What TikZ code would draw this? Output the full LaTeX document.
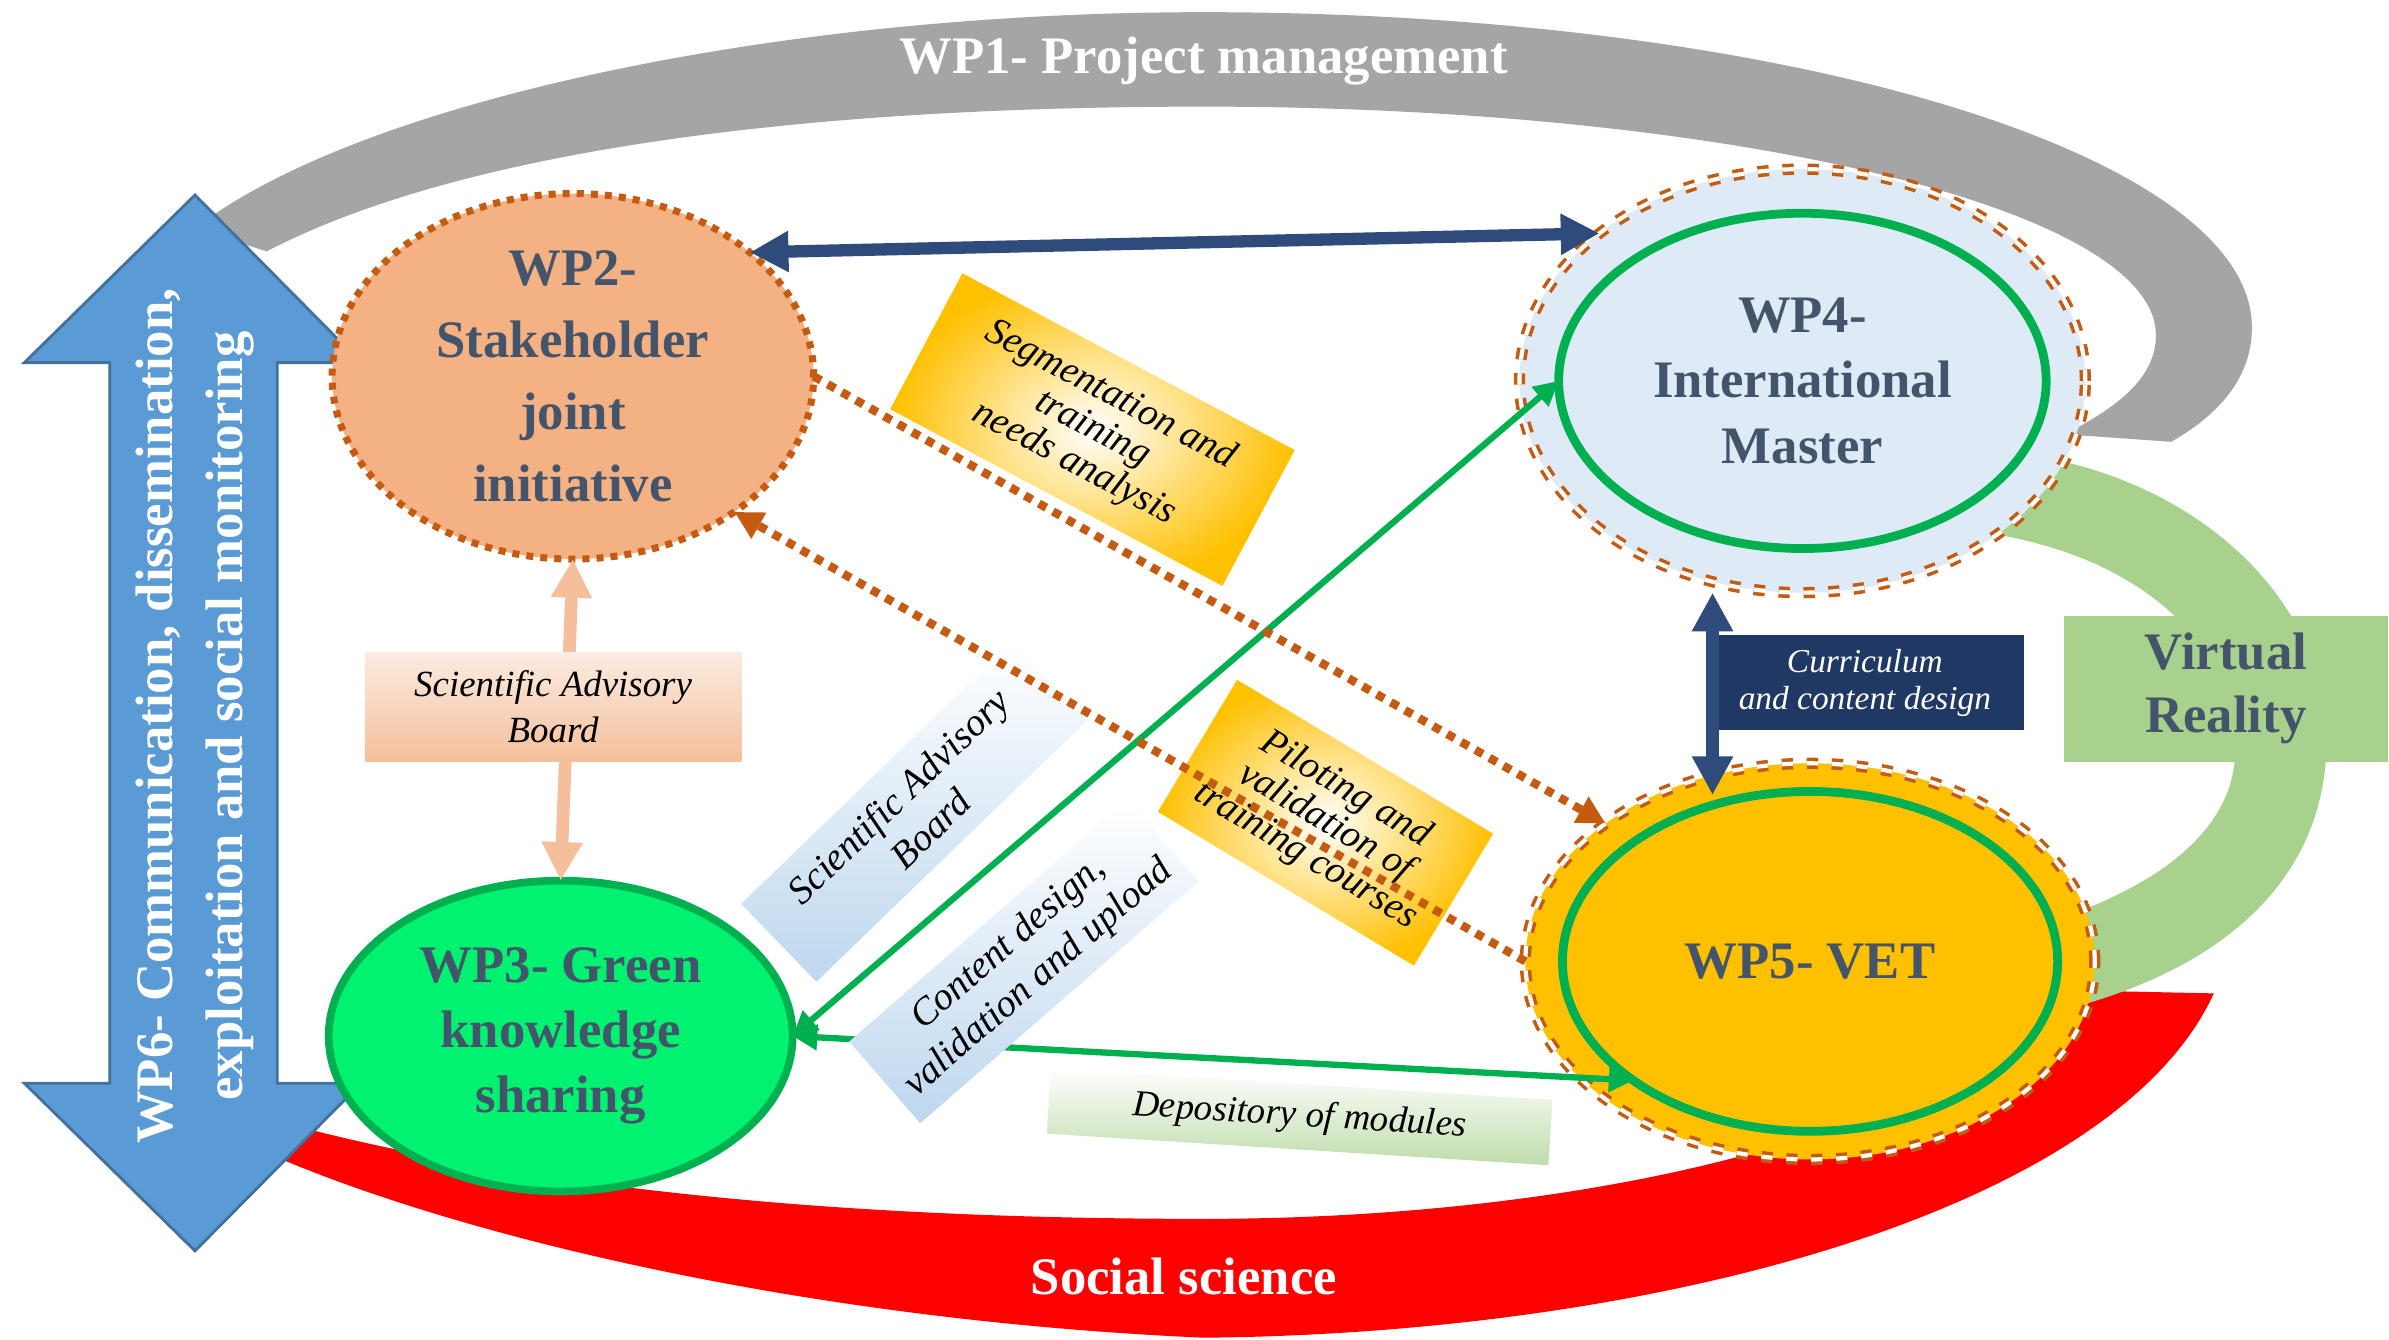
\documentclass[tikz,border=0pt]{standalone}
\usepackage{fontspec}
\setmainfont{Liberation Serif}
\usetikzlibrary{shapes.geometric,arrows.meta}

\definecolor{wpgray}{HTML}{A5A5A5}
\definecolor{wpred}{HTML}{FF0000}
\definecolor{vrgreen}{HTML}{A9D18E}
\definecolor{wpblue}{HTML}{5B9BD5}
\definecolor{wpedge}{HTML}{41719C}
\definecolor{wptext}{HTML}{44546A}
\definecolor{wptwo}{HTML}{F4B183}
\definecolor{rust}{HTML}{C55A11}
\definecolor{wpthree}{HTML}{00F270}
\definecolor{okgreen}{HTML}{00B050}
\definecolor{wpfour}{HTML}{DEEBF7}
\definecolor{wpfive}{HTML}{FFC000}
\definecolor{navy}{HTML}{2F4B7C}
\definecolor{darknavy}{HTML}{203864}
\definecolor{peach}{HTML}{F5BF9C}
\definecolor{labgold}{HTML}{FFC000}
\definecolor{labblue}{HTML}{BDD7EE}
\definecolor{labpeach}{HTML}{F4BF9B}
\definecolor{labgreen}{HTML}{BFDCAB}

\tikzset{
  wp/.style={ellipse, inner sep=0pt, outer sep=0pt, align=center, text=wptext,
    font=\bfseries\fontsize{15}{18.5}\selectfont},
  ringline/.style={draw=rust, line width=1pt, double=white, double distance=1.2pt,
    dash pattern=on 3.2pt off 3.9pt},
  inring/.style={ellipse, draw=okgreen, line width=2.5pt, inner sep=0pt, outer sep=0pt},
  lab/.style={rectangle, inner sep=0pt, align=center,
    font=\itshape\fontsize{11}{11}\selectfont},
  goldlab/.style={lab, inner color=white, outer color=labgold},
  bluelab/.style={lab, top color=white, bottom color=labblue,
    font=\itshape\fontsize{11}{13}\selectfont},
  bandtext/.style={text=white, align=center, font=\bfseries\fontsize{15}{20}\selectfont},
  navyarr/.style={navy, line width=3.5pt,
    {Triangle[length=11pt,width=11pt]}-{Triangle[length=11pt,width=11pt]}},
  peacharr/.style={peach, line width=3.6pt,
    {Triangle[length=11pt,width=11pt]}-{Triangle[length=11pt,width=11pt]}},
  greenarr/.style={okgreen, line width=1.8pt,
    {Triangle[length=7pt,width=7pt]}-{Triangle[length=7pt,width=7pt]}},
  dotarr/.style={rust, line width=2.4pt, dash pattern=on 2.4pt off 2.2pt,
    -{Triangle[length=8pt,width=8pt]}}
}

\begin{document}
\begin{tikzpicture}[x=0.4335pt, y=-0.4335pt]
\useasboundingbox (0,0) rectangle (1568,879);
\fill[white] (0,0) rectangle (1568,879);

% bands
\fill[wpgray] (128,150) .. controls (230,70) and (500,8) .. (790,8)
  .. controls (1170,8) and (1478,101) .. (1478,215)
  .. controls (1478,245) and (1460,270) .. (1425,290) -- (1355,285)
  .. controls (1395,265) and (1415,245) .. (1415,220)
  .. controls (1415,137) and (1135,70) .. (790,70)
  .. controls (520,70) and (300,100) .. (175,165) -- cycle;
\fill[wpred] (150,745) .. controls (260,800) and (500,865) .. (790,878)
  .. controls (1100,875) and (1390,790) .. (1453,652) -- (1360,650)
  .. controls (1250,760) and (1000,800) .. (790,800)
  .. controls (550,800) and (350,780) .. (190,738) -- cycle;
\fill[vrgreen] (1340,300) .. controls (1450,320) and (1530,400) .. (1527,490)
  .. controls (1525,570) and (1470,630) .. (1365,660) -- (1360,600)
  .. controls (1440,570) and (1468,530) .. (1467,490)
  .. controls (1466,420) and (1400,360) .. (1290,348) -- cycle;
\node[bandtext] (wp1) at (790,40) {WP1- Project management};
\node[bandtext] (soc) at (777,838) {Social science};
\node[fill=vrgreen, inner sep=0pt, minimum width=92.3pt, minimum height=41.6pt,
  align=center, text=wptext, font=\bfseries\fontsize{15}{18}\selectfont]
  (vr) at (1461,452) {Virtual\\Reality};

% WP6 arrow
\draw[wpedge, fill=wpblue, line width=0.8pt] (128,128) -- (237,238) -- (182,238)
  -- (182,711) -- (237,711) -- (128,821) -- (16,711) -- (72,711) -- (72,238)
  -- (16,238) -- cycle;
\node[bandtext, rotate=90] (wp6) at (128,470)
  {WP6- Communication, dissemination,\\exploitation and social monitoring};

% work packages
\node[wp, fill=wptwo, draw=rust, line width=2pt, dash pattern=on 2pt off 2pt,
  minimum width=137pt, minimum height=104pt,
  font=\bfseries\fontsize{15}{20.4}\selectfont]
  (wp2) at (376,247) {WP2-\\Stakeholder\\joint\\initiative};
\node[wp, fill=wpthree, draw=okgreen, line width=2.2pt,
  minimum width=132pt, minimum height=88.4pt]
  (wp3) at (368,680) {WP3- Green\\knowledge\\sharing};
\node[wp, fill=wpfour, ringline, minimum width=161pt, minimum height=120.5pt]
  (wp4) at (1183,250) {WP4-\\International\\Master};
\node[inring, minimum width=138.7pt, minimum height=95.4pt] (wp4in) at (wp4) {};
\node[wp, fill=wpfive, ringline, minimum width=162pt, minimum height=112.7pt]
  (wp5) at (1188,631) {WP5- VET};
\node[inring, minimum width=140.9pt, minimum height=96.7pt] (wp5in) at (wp5) {};

% links
\draw[greenarr] (wp3.east) -- (wp4in.west);
\draw[greenarr] (wp3.east) -- (wp5in.214);
\draw[peacharr] (wp2.south) -- (wp3.north);

\node[lab, top color=white!70!labpeach, bottom color=labpeach,
  minimum width=107.1pt, minimum height=31.2pt,
  font=\itshape\fontsize{10.5}{13}\selectfont]
  (sabpeach) at (363,464) {Scientific Advisory\\Board};
\node[bluelab, rotate=44, minimum width=107.1pt, minimum height=30.8pt]
  (sabblue) at (600,533) {Scientific Advisory\\Board};
\node[bluelab, rotate=41, minimum width=104.9pt, minimum height=30.8pt]
  (content) at (672,631) {Content design,\\validation and upload};
\node[goldlab, rotate=-28, minimum width=107.1pt, minimum height=43.8pt]
  (segment) at (717,282) {Segmentation and\\training\\needs analysis};
\node[goldlab, rotate=-31, minimum width=85pt, minimum height=43.8pt]
  (pilot) at (870,540) {Piloting and\\validation of\\training courses};
\node[lab, top color=white, bottom color=labgreen, rotate=-3.6,
  minimum width=143pt, minimum height=18.6pt,
  font=\itshape\fontsize{10.5}{12}\selectfont]
  (depo) at (853,733) {Depository of modules};
\node[lab, fill=darknavy, text=white, minimum width=90.6pt, minimum height=26.9pt,
  font=\itshape\fontsize{9.5}{10.5}\selectfont]
  (curr) at (1224,448) {Curriculum\\and content design};

\coordinate (vx) at (1124,0);
\draw[navyarr] (wp2.35) -- (wp4.144);
\draw[navyarr, shorten >=-9pt] (wp4.south -| vx) -- (wp5.north -| vx);
\draw[dotarr] (wp2.east) -- (wp5.146);
\draw[dotarr] (wp5.west) -- (wp2.-40);
\end{tikzpicture}
\end{document}
